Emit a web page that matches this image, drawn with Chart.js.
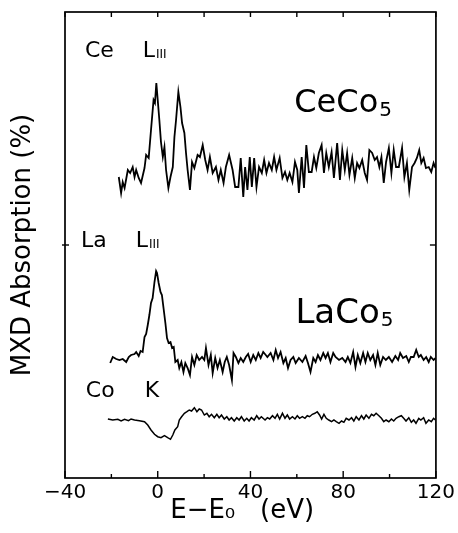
<!DOCTYPE html>
<html>
<head>
<meta charset="utf-8">
<script src="https://cdn.jsdelivr.net/npm/chart.js@4"></script>
<style>
  html, body { margin: 0; padding: 0; background: #fff; }
  canvas { display: block; }
</style>
</head>
<body>
<canvas id="c" width="458" height="533"></canvas>
<script>
// ---- data (energy in eV relative to edge, MXD signal in arbitrary offset units) ----
const ceEnergy = [
  -16.8,-15.8,-15.1,-14.3,-12.9,-11.9,-10.8,-10.0,-9.3,-8.2,
  -7.2,-5.7,-5.0,-3.9,-2.9,-1.8,-1.2,-0.6,0,0.7,
  1.4,2.2,2.9,3.6,4.6,5.5,6.5,7.2,7.9,8.9,
  9.8,10.5,11.5,12.2,12.9,13.9,14.8,15.8,17.2,18.2,
  19.4,20.5,21.5,22.5,23.7,25.1,26.2,27.2,28.4,29.4,
  30.8,32.3,33.4,34.8,35.8,36.9,37.7,38.7,39.7,40.6,
  41.6,42.6,43.7,44.9,45.9,46.9,48.0,49.2,50.2,51.2,
  52.6,53.8,54.9,55.9,56.9,58.1,59.2,60.2,60.9,62.1,
  63.1,64.1,65.2,66.4,67.4,68.4,69.5,70.7,71.7,72.7,
  73.8,75.0,76.0,77.4,78.6,79.6,80.7,81.7,82.7,83.9,
  85.0,86.0,87.0,88.2,89.3,90.3,91.3,92.5,93.6,94.6,
  95.6,96.5,97.5,98.5,99.7,100.8,101.8,102.8,104.0,105.4,
  106.4,107.5,108.5,109.7,110.8,111.8,112.8,113.7,114.7,115.7,
  116.9,118.0,119.0,119.8
];
const ceValue = [
  30.1,28.5,29.6,29.0,30.8,30.5,31.1,30.1,30.8,30.0,
  29.5,31.0,32.3,32.0,34.8,37.8,37.5,39.5,37.8,35.8,
  33.6,32.1,33.1,30.8,29.0,30.1,31.1,34.1,35.8,38.6,
  37.1,35.5,34.5,32.5,30.8,28.8,31.6,31.0,32.3,32.1,
  33.3,31.8,30.8,32.1,30.5,31.1,29.8,30.8,29.5,31.1,
  32.3,30.8,29.1,29.1,32.0,28.1,31.1,28.8,32.1,29.1,
  32.0,29.1,31.1,30.5,31.8,30.5,31.5,30.8,32.1,30.8,
  32.0,30.0,30.6,29.8,30.5,29.6,31.6,30.8,28.5,32.1,
  29.0,33.3,30.6,30.6,32.1,31.0,32.5,33.3,30.5,32.5,
  31.1,32.6,30.0,33.5,29.8,32.8,30.8,32.5,30.3,32.0,
  30.0,31.5,31.0,31.8,30.5,29.8,32.8,32.5,31.8,32.1,
  31.1,32.1,29.5,31.6,33.0,30.5,32.8,31.1,31.1,33.0,
  30.1,31.5,28.8,31.1,31.5,32.0,32.8,31.5,32.0,31.0,
  31.1,30.6,31.5,31.0
];

const laEnergy = [
  -20.5,-19.4,-17.9,-16.5,-15.1,-13.6,-12.5,-11.5,-10.0,-9.3,
  -8.2,-7.4,-6.5,-5.7,-5.0,-4.3,-3.6,-2.9,-2.2,-1.4,
  -0.7,-0.3,0.4,1.2,1.8,2.5,3.3,4.0,4.7,5.5,
  6.2,6.9,7.6,8.6,9.3,10.2,11.1,11.9,12.9,13.9,
  14.8,15.8,16.8,17.9,19.1,20.1,20.8,21.9,22.9,23.7,
  24.8,25.8,26.8,28.0,28.9,29.8,30.8,32.0,32.7,33.7,
  34.8,35.8,36.9,38.0,39.0,40.1,41.2,42.3,43.4,44.4,
  45.5,46.6,47.3,48.7,49.9,50.9,51.9,53.0,54.2,55.2,
  56.2,57.3,58.5,59.5,60.9,62.4,63.8,64.8,65.9,67.1,
  68.1,69.1,70.2,71.4,72.4,73.4,74.5,75.7,76.7,78.2,
  79.6,81.0,82.0,83.1,84.3,85.3,86.3,87.4,88.6,89.6,
  90.6,91.7,92.9,93.9,94.9,96.0,97.2,98.4,99.7,101.1,
  102.5,103.7,104.6,105.8,107.2,108.3,109.2,110.4,111.5,112.6,
  113.5,114.7,115.8,116.9,117.8,119.0,119.8
];
const laValue = [
  11.5,12.1,11.9,11.8,11.9,11.6,12.1,12.3,12.4,12.6,
  12.2,12.7,12.6,14.1,14.4,15.3,16.3,17.5,18.0,19.6,
  20.7,20.5,19.5,18.6,18.3,17.0,15.5,14.0,13.5,13.6,
  13.0,13.1,11.6,11.8,11.0,11.6,10.6,11.5,11.0,10.3,
  12.1,11.3,12.3,11.8,12.1,11.8,13.0,11.3,12.3,10.5,
  12.0,11.0,11.8,10.6,11.6,12.1,11.3,9.8,12.5,12.1,
  11.5,12.0,11.6,12.1,12.4,11.6,12.3,11.8,12.5,12.0,
  12.6,12.3,12.1,12.5,11.8,12.8,12.0,12.6,11.5,12.0,
  11.0,11.8,12.1,11.5,12.0,11.6,12.2,11.5,10.6,12.0,
  11.6,12.3,11.8,12.5,12.0,12.5,11.6,12.5,12.1,11.8,
  12.0,11.6,12.1,11.5,12.6,11.1,12.3,11.5,12.5,11.6,
  12.5,11.8,12.3,11.3,12.5,11.3,12.1,11.8,12.1,11.6,
  12.2,11.8,12.5,12.0,12.2,11.6,12.1,12.1,12.8,12.1,
  12.3,11.8,12.1,11.6,12.1,11.8,12.0
];

const coEnergy = [
  -21.5,-19.4,-17.2,-15.8,-14.3,-12.6,-11.5,-10.0,-7.9,-5.7,
  -4.3,-2.9,-1.4,0,1.4,2.9,4.3,5.5,6.5,7.4,
  8.6,9.3,10.3,11.5,12.6,13.6,14.6,15.8,16.9,17.9,
  18.9,20.1,21.2,22.2,23.2,24.4,25.5,26.5,27.5,28.7,
  29.8,30.8,31.8,33.0,34.1,35.1,36.1,37.3,38.4,39.4,
  40.4,41.6,42.7,43.7,44.7,46.3,47.3,48.3,49.5,50.6,
  51.6,52.6,53.8,54.9,55.9,56.9,58.1,59.2,60.2,61.2,
  62.4,63.5,64.5,65.5,66.7,67.8,68.8,69.8,70.7,71.7,
  72.7,73.8,75.0,76.0,77.0,78.2,79.3,80.3,81.3,82.5,
  83.6,84.6,85.6,86.8,87.9,88.9,89.9,91.1,92.2,93.2,
  94.2,95.4,96.5,97.5,98.5,99.7,100.8,101.8,102.8,104.0,
  105.1,106.1,107.1,108.3,109.4,110.4,111.4,112.6,113.5,114.7,
  115.7,116.9,118.0,119.0,119.8
];
const coValue = [
  5.9,5.8,5.87,5.7,5.87,5.73,5.9,5.8,5.73,5.63,
  5.3,4.8,4.37,4.13,4.03,4.23,4.03,3.87,4.3,4.8,
  5.13,5.8,6.13,6.47,6.63,6.8,6.7,7.03,6.63,6.9,
  6.8,6.3,6.47,6.13,6.37,6.03,6.37,6.03,6.3,5.9,
  6.13,5.8,6.03,5.7,6.03,5.8,6.13,5.7,5.97,5.7,
  6.03,5.8,6.23,5.9,6.13,5.8,6.03,5.9,6.23,5.97,
  6.37,5.9,6.47,5.97,6.3,5.9,6.13,5.9,6.23,5.97,
  6.13,5.97,6.23,6.13,6.37,6.47,6.63,6.3,5.9,6.37,
  5.97,5.8,5.63,5.8,5.63,5.47,5.7,5.57,5.97,5.8,
  6.03,5.7,6.13,5.8,6.23,5.9,6.3,5.97,6.37,6.23,
  6.47,6.23,5.97,5.63,5.8,5.63,5.9,5.7,5.97,6.13,
  6.23,5.97,5.7,6.03,5.57,5.8,5.47,5.97,5.8,6.03,
  5.47,5.8,5.63,5.97,5.8
];

const xMajorTicks = [-40, 0, 40, 80, 120];
const xMinorTicks = [-20, 20, 60, 100];
const yMarkTicks = [23.3];

// text labels placed in data coordinates (sub = subscript drawn right after text)
const labels = [
  { text: 'Ce',   x: -31.4, y: 42.1, size: 22 },
  { text: 'L',    x: -6.45, y: 42.1, size: 22, sub: 'III', subSize: 12, subDy: 1 },
  { text: 'CeCo', x: 58.9,  y: 36.6, size: 32, sub: '5', subSize: 20, subDy: 4 },
  { text: 'La',   x: -33.1, y: 23.1, size: 22 },
  { text: 'L',    x: -9.5,  y: 23.1, size: 22, sub: 'III', subSize: 12, subDy: 1 },
  { text: 'LaCo', x: 59.4,  y: 15.5, size: 34, sub: '5', subSize: 20, subDy: 3 },
  { text: 'Co',   x: -31.0, y: 8.1,  size: 22 },
  { text: 'K',    x: -5.6,  y: 8.1,  size: 22 }
];

const FONT = "'DejaVu Sans', sans-serif";

function pairs(xs, ys) { return xs.map((e, i) => ({ x: e, y: ys[i] })); }

const framePlugin = {
  id: 'frame',
  afterDatasetsDraw(chart) {
    const { ctx, chartArea: a, scales: { x, y } } = chart;
    ctx.save();
    ctx.strokeStyle = '#000';
    ctx.lineWidth = 1.7;
    ctx.strokeRect(a.left, a.top, a.right - a.left, a.bottom - a.top);
    ctx.lineWidth = 1.4;
    const seg = (x1, y1, x2, y2) => { ctx.beginPath(); ctx.moveTo(x1, y1); ctx.lineTo(x2, y2); ctx.stroke(); };
    xMajorTicks.forEach(v => {
      const px = x.getPixelForValue(v);
      seg(px, a.bottom, px, a.bottom - 7);
      seg(px, a.top, px, a.top + 5);
    });
    xMinorTicks.forEach(v => {
      const px = x.getPixelForValue(v);
      seg(px, a.bottom, px, a.bottom - 4);
      seg(px, a.top, px, a.top + 5);
    });
    yMarkTicks.forEach(v => {
      const py = y.getPixelForValue(v);
      seg(a.left - 3, py, a.left + 4, py);
      seg(a.right, py, a.right - 6, py);
    });
    ctx.fillStyle = '#000';
    ctx.textBaseline = 'alphabetic';
    ctx.textAlign = 'left';
    labels.forEach(l => {
      const px = x.getPixelForValue(l.x), py = y.getPixelForValue(l.y);
      ctx.font = l.size + 'px ' + FONT;
      ctx.fillText(l.text, px, py);
      if (l.sub) {
        const w = ctx.measureText(l.text).width;
        ctx.font = l.subSize + 'px ' + FONT;
        ctx.fillText(l.sub, px + w + 1, py + l.subDy);
      }
    });
    ctx.restore();
  }
};

const lineStyle = { borderColor: '#000', pointRadius: 0, tension: 0, fill: false };

new Chart(document.getElementById('c').getContext('2d'), {
  type: 'line',
  data: {
    datasets: [
      Object.assign({ label: 'CeCo5', data: pairs(ceEnergy, ceValue), borderWidth: 1.8 }, lineStyle),
      Object.assign({ label: 'LaCo5', data: pairs(laEnergy, laValue), borderWidth: 1.8 }, lineStyle),
      Object.assign({ label: 'Co K',  data: pairs(coEnergy, coValue), borderWidth: 1.5 }, lineStyle)
    ]
  },
  options: {
    responsive: false,
    animation: false,
    devicePixelRatio: 1,
    layout: { padding: { left: 0, right: 21, top: 12, bottom: 0 } },
    plugins: { legend: { display: false }, tooltip: { enabled: false } },
    scales: {
      x: {
        type: 'linear', min: -40, max: 120,
        grid: { display: false, drawTicks: false }, border: { display: false },
        ticks: {
          stepSize: 40, autoSkip: false, maxRotation: 0, padding: 3, color: '#000',
          font: { family: FONT, size: 20 },
          callback: v => (v < 0 ? '\u2212' + Math.abs(v) : String(v))
        },
        title: {
          display: true, text: 'E\u2212E\u2080   (eV)  ', color: '#000',
          font: { family: FONT, size: 26 }, padding: { top: 0, bottom: 6 }
        },
        afterFit(s) { s.height = 55; }
      },
      y: {
        min: 0, max: 46.6,
        grid: { display: false, drawTicks: false }, border: { display: false },
        ticks: { display: false },
        title: {
          display: true, text: 'MXD Absorption (%)', color: '#000',
          font: { family: FONT, size: 26 }, padding: { top: 8, bottom: 0 }
        },
        afterFit(s) { s.width = 65; }
      }
    }
  },
  plugins: [framePlugin]
});
</script>
</body>
</html>
